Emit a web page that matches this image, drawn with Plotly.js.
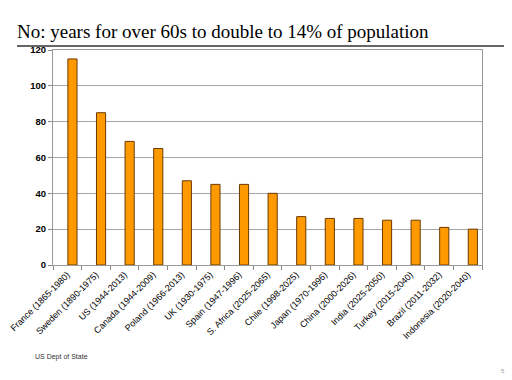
<!DOCTYPE html>
<html>
<head>
<meta charset="utf-8">
<script src="https://cdn.plot.ly/plotly-3.0.1.min.js"></script>
<style>
html,body{margin:0;padding:0;background:#fff;}
#chart{width:512px;height:380px;}
</style>
</head>
<body>
<div id="chart"></div>
<script>
const categories = ["France (1865-1980)", "Sweden (1890-1975)", "US (1944-2013)", "Canada (1944-2009)",
  "Poland (1966-2013)", "UK (1930-1975)", "Spain (1947-1996)", "S. Africa (2025-2065)",
  "Chile (1998-2025)", "Japan (1970-1996)", "China (2000-2026)", "India (2025-2050)",
  "Turkey (2015-2040)", "Brazil (2011-2032)", "Indonesia (2020-2040)"];
const years = [115, 85, 69, 65, 47, 45, 45, 40, 27, 26, 26, 25, 25, 21, 20];
const yTicks = [0, 20, 40, 60, 80, 100, 120];

const trace = {
  type: 'bar',
  x: categories,
  y: years,
  width: 0.32,
  offset: 0.02,
  marker: {color: '#FF9900', line: {color: '#6b3a00', width: 1}},
  hoverinfo: 'x+y'
};

const layout = {
  width: 512, height: 380,
  margin: {l: 53, r: 30, t: 50, b: 115, pad: 0},
  paper_bgcolor: '#ffffff', plot_bgcolor: '#ffffff',
  showlegend: false,
  title: {
    text: 'No: years for over 60s to double to 14% of population',
    font: {family: 'Liberation Serif, Times New Roman, serif', size: 19, color: '#000'},
    x: 17/512, xref: 'container', xanchor: 'left',
    y: 1 - 25/380, yref: 'container', yanchor: 'top'
  },
  xaxis: {
    type: 'category',
    tickson: 'boundaries',
    ticks: 'outside', ticklen: 4, tickcolor: '#888',
    showline: true, linecolor: '#999', linewidth: 1, mirror: true,
    tickangle: -45,
    tickfont: {family: 'Liberation Sans, Arial, sans-serif', size: 9, color: '#000'},
    showgrid: false,
    range: [-0.5, 14.5]
  },
  yaxis: {
    range: [0, 120],
    tickvals: yTicks,
    ticktext: yTicks.map(v => '<b>' + v + '</b>'),
    ticks: 'outside', ticklen: 4, tickcolor: '#888',
    showline: true, linecolor: '#999', linewidth: 1, mirror: true,
    gridcolor: '#a6a6a6', gridwidth: 1,
    zeroline: false,
    tickfont: {family: 'Liberation Sans, Arial, sans-serif', size: 9.5, color: '#000'}
  },
  shapes: [{
    type: 'line', xref: 'paper', yref: 'paper',
    x0: (17-53)/429, x1: (504-53)/429,
    y0: (265-46)/215, y1: (265-46)/215,
    line: {color: '#666', width: 2}
  }],
  annotations: [
    {text: 'US Dept of State', xref: 'paper', yref: 'paper',
     x: (33-53)/429, y: (265-357)/215, xanchor: 'left', yanchor: 'middle',
     showarrow: false, font: {family: 'Liberation Sans, Arial, sans-serif', size: 7, color: '#333'}},
    {text: '5', xref: 'paper', yref: 'paper',
     x: (503-53)/429, y: (265-371)/215, xanchor: 'center', yanchor: 'middle',
     showarrow: false, font: {family: 'Liberation Sans, Arial, sans-serif', size: 6, color: '#999'}}
  ]
};

Plotly.newPlot('chart', [trace], layout, {displayModeBar: false, staticPlot: true});
</script>
</body>
</html>
